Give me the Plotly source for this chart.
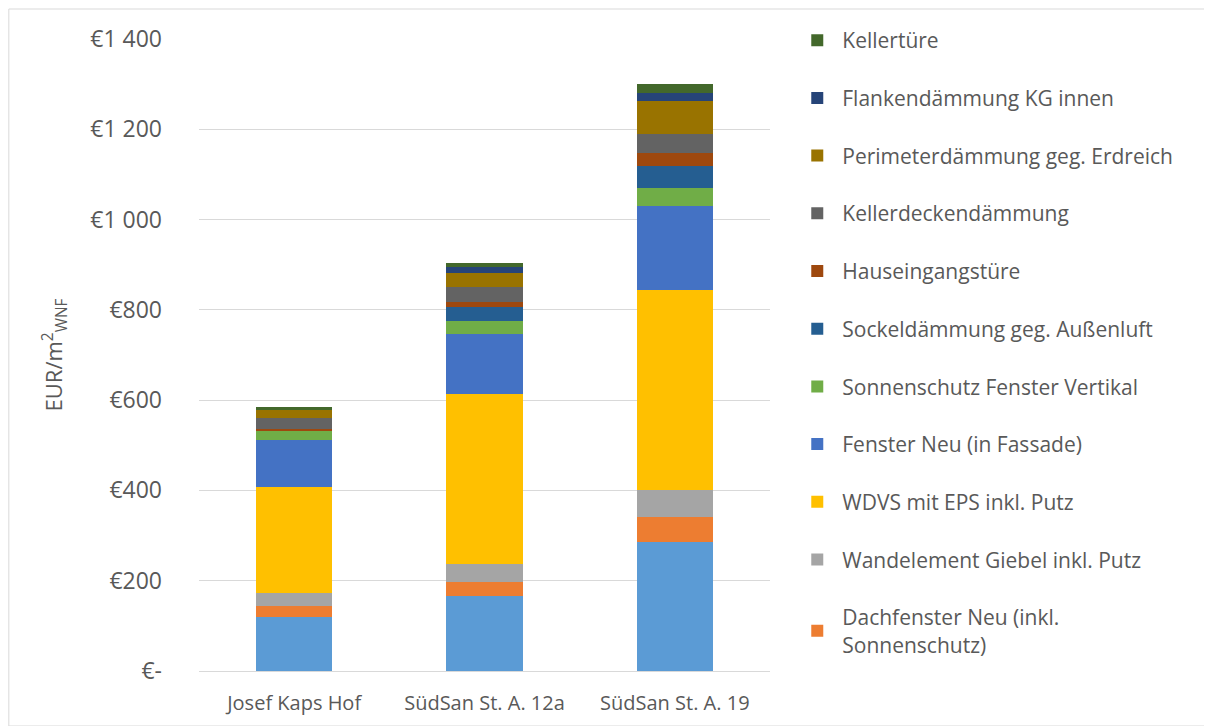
import plotly.graph_objects as go

categories = ["Josef Kaps Hof", "SüdSan St. A. 12a", "SüdSan St. A. 19"]

# series from bottom to top of stack
series_names = [
    "Dach (nicht in Legende)",
    "Dachfenster Neu (inkl.<br>Sonnenschutz)",
    "Wandelement Giebel inkl. Putz",
    "WDVS mit EPS inkl. Putz",
    "Fenster Neu (in Fassade)",
    "Sonnenschutz Fenster Vertikal",
    "Sockeldämmung geg. Außenluft",
    "Hauseingangstüre",
    "Kellerdeckendämmung",
    "Perimeterdämmung geg. Erdreich",
    "Flankendämmung KG innen",
    "Kellertüre",
]
dach = [120, 166, 285]
dachfenster = [24, 32, 57]
wandelement = [28, 40, 59]
wdvs = [236, 375, 443]
fenster = [104, 133, 186]
sonnenschutz = [20, 29, 39]
sockel = [0, 31, 50]
hauseingang = [5, 12, 28]
kellerdecke = [24, 32, 42]
perimeter = [17, 31, 74]
flanken = [0, 13, 18]
kellertuer = [6, 10, 19]
series_values = [dach, dachfenster, wandelement, wdvs, fenster, sonnenschutz,
                 sockel, hauseingang, kellerdecke, perimeter, flanken, kellertuer]
series_colors = ["#5b9bd5", "#ed7d31", "#a5a5a5", "#ffc000", "#4472c4", "#70ad47",
                 "#255e91", "#9e480e", "#636363", "#997300", "#264478", "#43682b"]
show_legend = [False] + [True] * 11

tick_vals = [0, 200, 400, 600, 800, 1000, 1200, 1400]
tick_text = ["€-", "€200", "€400", "€600", "€800", "€1 000", "€1 200", "€1 400"]

FONT = "Open Sans, sans-serif"
TXT = "#595959"

fig = go.Figure()
for i, (name, vals, col, sl) in enumerate(zip(series_names, series_values, series_colors, show_legend)):
    fig.add_trace(go.Bar(
        x=categories, y=vals, name=name, marker=dict(color=col, line=dict(width=0)),
        showlegend=sl, legendgroup=name, legendrank=100 - i,
    ))

W, H = 1204, 718
L, R, T, B = 190.5, 441.5, 31, 55
pw = W - L - R
ph = H - T - B
fig.update_layout(
    width=W, height=H,
    barmode="stack", bargap=0.6,
    margin=dict(l=L, r=R, t=T, b=B),
    paper_bgcolor="white", plot_bgcolor="white",
    font=dict(family=FONT, color=TXT),
    legend=dict(
        x=1.039, xanchor="left", y=1.03, yanchor="top",
        traceorder="grouped", tracegroupgap=27.4,
        font=dict(size=21, color=TXT, family=FONT),
        itemwidth=40, maxheight=700,
    ),
    xaxis=dict(
        showgrid=False, showline=True, linecolor="#d9d9d9", linewidth=1,
        tickfont=dict(size=20, color=TXT), ticks="", ticklabelstandoff=14,
        automargin=False,
    ),
    yaxis=dict(
        range=[0, 1400], tickvals=tick_vals, ticktext=tick_text,
        showgrid=True, gridcolor="#d9d9d9", gridwidth=1, zeroline=False,
        tickfont=dict(size=23, color=TXT), ticklabelstandoff=36,
        title=dict(text="EUR/m<sup>2</sup><sub>WNF</sub>", font=dict(size=22, color=TXT), standoff=21),
    ),
)

fig.add_shape(type="rect", xref="paper", yref="paper",
              x0=(0 - L) / pw, x1=(W - 1 - L) / pw,
              y0=-B / ph + 0.0, y1=(H - 1 - B) / ph,
              line=dict(color="#d9d9d9", width=1), fillcolor="rgba(0,0,0,0)", layer="below")

fig.write_html("out.html")
